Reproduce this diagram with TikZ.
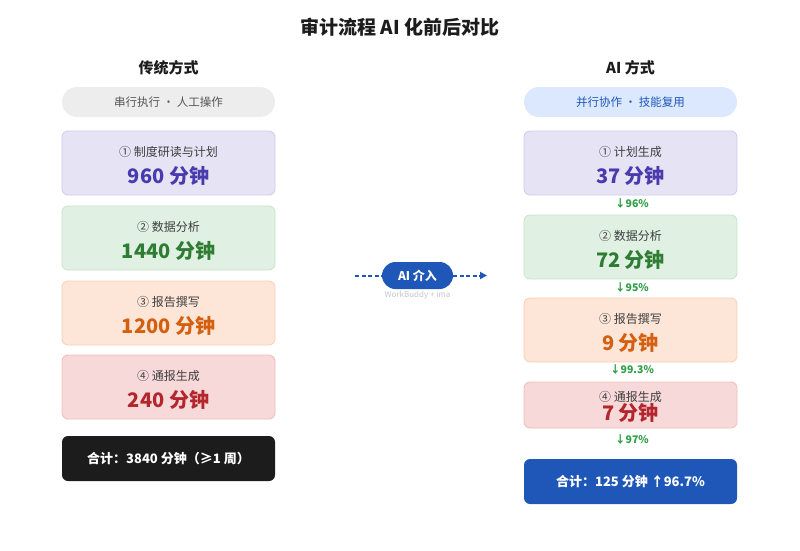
\documentclass[tikz,border=0pt]{standalone}
\usepackage{fontspec}
\setmainfont{Noto Sans CJK SC}
\usetikzlibrary{arrows.meta,positioning}

\definecolor{inkdark}{HTML}{1C1C1C}
\definecolor{inkgray}{HTML}{555555}
\definecolor{pillgray}{HTML}{EDEDED}
\definecolor{pillblue}{HTML}{DBE8FD}
\definecolor{aiblue}{HTML}{1F57B8}
\definecolor{purpfill}{HTML}{E6E3F5}
\definecolor{purpline}{HTML}{D0CAEE}
\definecolor{purptext}{HTML}{4A3AAD}
\definecolor{greenfill}{HTML}{E0F0E3}
\definecolor{greenline}{HTML}{C6E4CB}
\definecolor{greentext}{HTML}{2E7D32}
\definecolor{orangefill}{HTML}{FDE5D8}
\definecolor{orangeline}{HTML}{F8D0B4}
\definecolor{orangetext}{HTML}{D4600F}
\definecolor{redfill}{HTML}{F8D9D9}
\definecolor{redline}{HTML}{F0BBBB}
\definecolor{redtext}{HTML}{B3262D}
\definecolor{dropgreen}{HTML}{2E9E44}
\definecolor{faintgray}{HTML}{C2C6CE}

\newcommand\fsz[1]{\fontsize{#1}{#1}\selectfont}

\begin{document}
\begin{tikzpicture}[x=1pt,y=-1pt,
  every node/.style={inner sep=0pt,align=center},
  title/.style={font=\fsz{19}\bfseries,text=inkdark},
  colhead/.style={font=\fsz{15}\bfseries,text=inkdark},
  modepill/.style={rounded corners=15pt,minimum width=213pt,minimum height=30pt,font=\fsz{11.5}},
  stepbox/.style={draw,line width=0.8pt,rounded corners=6pt,minimum width=213pt,minimum height=64pt},
  steplbl/.style={font=\fsz{12},text=inkdark!85},
  stepval/.style={font=\fsz{20}\bfseries},
  totalbox/.style={rounded corners=6pt,minimum width=213pt,minimum height=45pt,font=\fsz{13}\bfseries,text=white},
  drop/.style={font=\fsz{10.5}\bfseries,text=dropgreen},
  flow/.style={aiblue,line width=2pt,dash pattern=on 4pt off 2.5pt}]

    \useasboundingbox (0,0) rectangle (800,551);

    \node[title](head) at (400,27){审计流程 AI 化前后对比};

    \node[colhead](oldhead) at (168.5,68){传统方式};
    \node[colhead](newhead) at (630.5,68){AI 方式};

    \node[modepill,fill=pillgray,text=inkgray](oldmode) at (168.5,102){串行执行 · 人工操作};
    \node[modepill,fill=pillblue,text=aiblue](newmode) at (630.5,102){并行协作 · 技能复用};

    \node[stepbox,fill=purpfill,draw=purpline](old1) at (168.5,163){};
    \node[steplbl](old1l) at (168.5,152){① 制度研读与计划};
    \node[stepval,text=purptext](old1v) at (168.5,176){960 分钟};

    \node[stepbox,fill=greenfill,draw=greenline](old2) at (168.5,238){};
    \node[steplbl](old2l) at (168.5,227){② 数据分析};
    \node[stepval,text=greentext](old2v) at (168.5,251){1440 分钟};

    \node[stepbox,fill=orangefill,draw=orangeline](old3) at (168.5,313){};
    \node[steplbl](old3l) at (168.5,302){③ 报告撰写};
    \node[stepval,text=orangetext](old3v) at (168.5,326){1200 分钟};

    \node[stepbox,fill=redfill,draw=redline](old4) at (168.5,387){};
    \node[steplbl](old4l) at (168.5,376){④ 通报生成};
    \node[stepval,text=redtext](old4v) at (168.5,400){240 分钟};

    \node[totalbox,fill=inkdark](oldsum) at (168.5,458.5){合计：3840 分钟（≥1 周）};

    \node[stepbox,fill=purpfill,draw=purpline](new1) at (630.5,163){};
    \node[steplbl](new1l) at (630.5,152){① 计划生成};
    \node[stepval,text=purptext](new1v) at (630.5,176){37 分钟};
    \node[drop](drop1) at (632,204){↓96\%};

    \node[stepbox,fill=greenfill,draw=greenline](new2) at (630.5,247){};
    \node[steplbl](new2l) at (630.5,236){② 数据分析};
    \node[stepval,text=greentext](new2v) at (630.5,260){72 分钟};
    \node[drop](drop2) at (632,288){↓95\%};

    \node[stepbox,fill=orangefill,draw=orangeline](new3) at (630.5,330){};
    \node[steplbl](new3l) at (630.5,319){③ 报告撰写};
    \node[stepval,text=orangetext](new3v) at (630.5,343){9 分钟};
    \node[drop](drop3) at (632,370){↓99.3\%};

    \node[stepbox,fill=redfill,draw=redline,minimum height=46pt](new4) at (630.5,405){};
    \node[steplbl](new4l) at (630.5,397){④ 通报生成};
    \node[stepval,text=redtext](new4v) at (630.5,413){7 分钟};
    \node[drop](drop4) at (632,440){↓97\%};

    \node[totalbox,fill=aiblue](newsum) at (630.5,481.5){合计：125 分钟 ↑96.7\%};

    \coordinate (flowin) at (355,275.5);
    \coordinate (flowout) at (487,275.5);
    \node[fill=aiblue,rounded corners=13.5pt,minimum width=71pt,minimum height=27pt,
          font=\fsz{12}\bfseries,text=white](ai) at (417.5,275.5){AI 介入};
    \node[font=\fsz{8},text=faintgray](aitools) at (417.5,295){WorkBuddy + ima};

    \draw[flow](flowin) -- (ai);
    \draw[flow,-{Triangle[length=7pt,width=7pt]}](ai) -- (flowout);
\end{tikzpicture}
\end{document}
